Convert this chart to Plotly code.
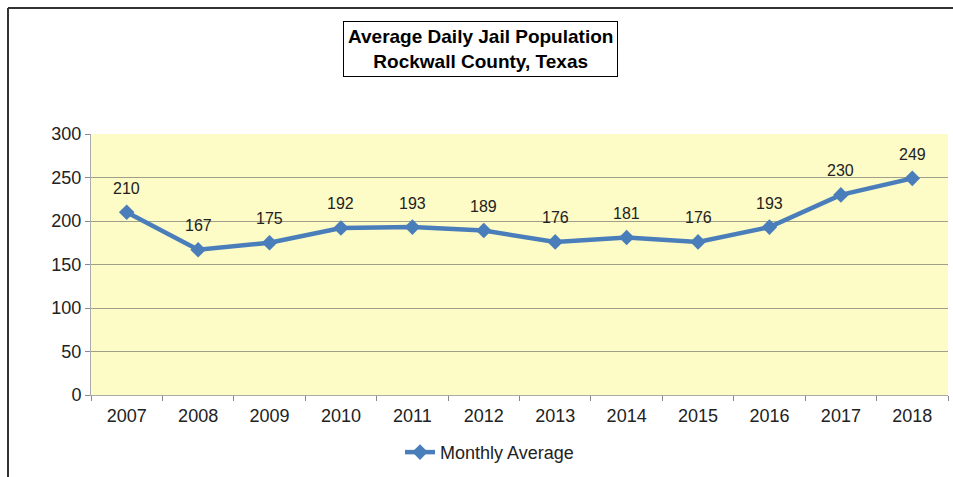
import plotly.graph_objects as go

years = ["2007", "2008", "2009", "2010", "2011", "2012", "2013", "2014", "2015", "2016", "2017", "2018"]
values = [210, 167, 175, 192, 193, 189, 176, 181, 176, 193, 230, 249]
y_ticks = [0, 50, 100, 150, 200, 250, 300]

FONT = "Liberation Sans, Arial, sans-serif"

fig = go.Figure()
fig.add_trace(go.Scatter(
    x=years, y=values, mode="lines+markers",
    name="Monthly Average",
    line=dict(color="#4a7ebb", width=4.5),
    marker=dict(symbol="diamond", size=12, color="#4a7ebb"),
    cliponaxis=False,
))

annotations = [dict(
    x=i, y=v, xref="x", yref="y", text=str(v), showarrow=False,
    yshift=24, font=dict(family=FONT, size=16, color="#222222"),
) for i, v in enumerate(values)]

annotations.append(dict(
    text="<b>Average Daily Jail Population<br>Rockwall County, Texas</b>",
    xref="paper", yref="paper", x=(480 - 91) / 857, y=(395 - 49) / 261,
    xanchor="center", yanchor="middle", showarrow=False,
    font=dict(family="Liberation Sans Narrow, Arial Narrow, sans-serif", size=19, color="black"),
    bordercolor="black", borderwidth=1, borderpad=4, bgcolor="white",
))

fig.update_layout(
    width=953, height=477,
    margin=dict(l=91, r=5, t=134, b=82),
    paper_bgcolor="white", plot_bgcolor="#fdfbc6",
    showlegend=True,
    legend=dict(orientation="h", x=(400 - 91) / 857, xanchor="left", y=-0.22, yanchor="middle",
                font=dict(family=FONT, size=18, color="#222222")),
    xaxis=dict(type="category", range=[-0.5, 11.5], showgrid=False, ticks="outside", tickson="boundaries",
               ticklen=5, tickcolor="#888888", showline=True, linecolor="#aaaaaa",
               ticklabelstandoff=4,
               tickfont=dict(family=FONT, size=18, color="#222222")),
    yaxis=dict(range=[0, 300], tickvals=y_ticks, showgrid=True, gridcolor="#a09f8c",
               gridwidth=1, zeroline=False, showline=True, linecolor="#aaaaaa",
               ticks="outside", ticklen=5, tickcolor="#888888",
               tickfont=dict(family=FONT, size=18, color="#222222")),
    annotations=annotations,
    shapes=[
        dict(type="line", xref="paper", yref="paper", x0=-83 / 857, x1=1.01, y0=(395 - 8) / 261, y1=(395 - 8) / 261,
             line=dict(color="#333333", width=2)),
        dict(type="line", xref="paper", yref="paper", x0=-83 / 857, x1=-83 / 857, y0=(395 - 8) / 261, y1=(395 - 480) / 261,
             line=dict(color="#333333", width=2)),
    ],
)

fig.write_html("out.html")
